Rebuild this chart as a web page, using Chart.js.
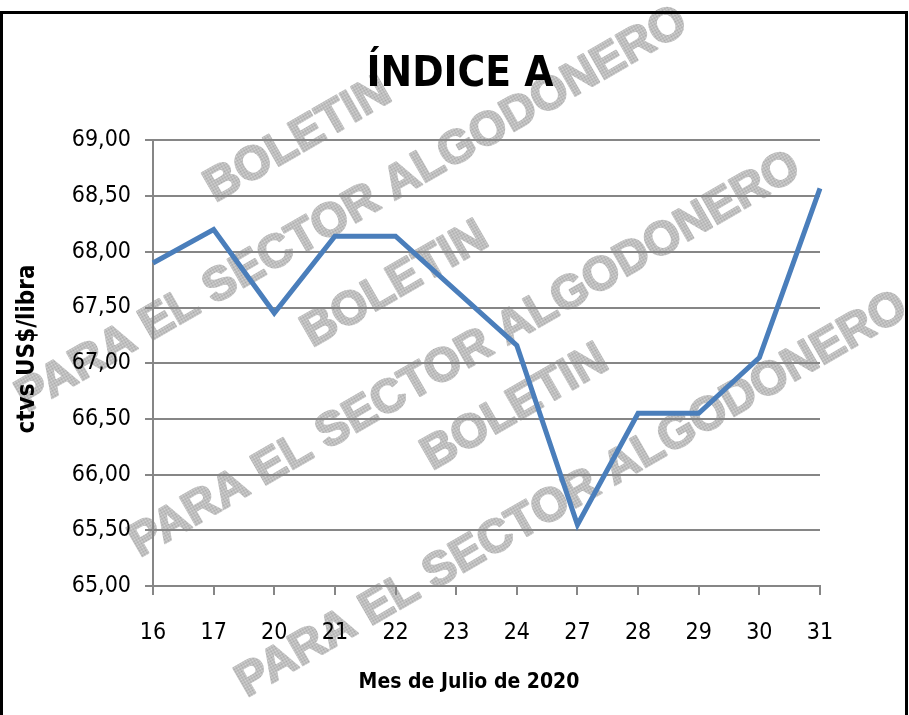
<!DOCTYPE html>
<html>
<head>
  <meta charset="utf-8">
  <title>Índice A</title>
  <script src="https://cdn.jsdelivr.net/npm/chart.js"></script>
  <style>
    body { margin: 0; background: #fff; }
  </style>
</head>
<body>
  <canvas id="indiceChart" width="909" height="715"></canvas>

  <script>
    // dias de julio 2020 y valor del indice (ctvs US$/libra)
    const dias = ['16', '17', '20', '21', '22', '23', '24', '27', '28', '29', '30', '31'];
    const indiceA = [67.90, 68.20, 67.45, 68.14, 68.14, 67.65, 67.16, 65.55, 66.55, 66.55, 67.05, 68.57];
    const yMin = 65, yMax = 69, yStep = 0.5;

    const xTitle = 'Mes de Julio de 2020';
    const yTitle = 'ctvs US$/libra';
    const watermarkLines = ['BOLETIN', 'PARA EL SECTOR ALGODONERO'];

    const FONT = '"DejaVu Sans Condensed", "Liberation Sans", sans-serif';

    // dotted grey fill like the scanned watermark
    const dots = document.createElement('canvas');
    dots.width = 2; dots.height = 2;
    const dctx = dots.getContext('2d');
    dctx.fillStyle = '#d8d8d8'; dctx.fillRect(0, 0, 2, 2);
    dctx.fillStyle = '#a6a6a6'; dctx.fillRect(0, 0, 1, 1); dctx.fillRect(1, 1, 1, 1);

    const decor = {
      id: 'decor',
      beforeDraw(chart) {
        const c = chart.ctx;
        c.save();
        c.fillStyle = '#fff';
        c.fillRect(0, 0, chart.width, chart.height);
        const pat = c.createPattern(dots, 'repeat');
        c.fillStyle = pat;
        c.strokeStyle = pat;
        c.lineWidth = 2;
        c.lineJoin = 'round';
        c.font = 'bold 47px "Liberation Sans"';
        c.textAlign = 'center';
        c.textBaseline = 'middle';
        const blocks = [
          { top: [298, 140], line: [352, 210] },
          { top: [395, 285], line: [465, 355] },
          { top: [515, 408], line: [572, 495] }
        ];
        const ang = -30 * Math.PI / 180;
        blocks.forEach(b => {
          [b.top, b.line].forEach((p, i) => {
            c.save();
            c.translate(p[0], p[1]);
            c.rotate(ang);
            c.strokeText(watermarkLines[i], 0, 0);
            c.fillText(watermarkLines[i], 0, 0);
            c.restore();
          });
        });
        c.restore();
      },
      afterDraw(chart) {
        const c = chart.ctx;
        c.save();
        // axis titles
        c.fillStyle = '#000';
        c.textAlign = 'center';
        c.textBaseline = 'middle';
        c.font = 'bold 21px ' + FONT;
        c.fillText(xTitle, 469, 683);
        c.translate(28, 349);
        c.rotate(-Math.PI / 2);
        c.font = 'bold 24px ' + FONT;
        c.fillText(yTitle, 0, 0);
        c.restore();

        // frame
        c.save();
        c.strokeStyle = '#000';
        c.lineWidth = 3;
        c.beginPath();
        c.moveTo(1.5, 716);
        c.lineTo(1.5, 12.5);
        c.lineTo(906.5, 12.5);
        c.lineTo(906.5, 716);
        c.stroke();
        c.restore();
      }
    };

    const ctx = document.getElementById('indiceChart').getContext('2d');
    const chart = new Chart(ctx, {
      type: 'line',
      data: {
        labels: dias,
        datasets: [{
          label: 'Índice A',
          data: indiceA,
          borderColor: '#4A7EBB',
          borderWidth: 5,
          borderJoinStyle: 'miter',
          pointRadius: 0,
          tension: 0,
          fill: false
        }]
      },
      options: {
        responsive: false,
        animation: false,
        layout: { padding: { top: 0, left: 11, right: 0, bottom: 0 } },
        plugins: {
          legend: { display: false },
          tooltip: { enabled: false },
          title: {
            display: true,
            text: 'ÍNDICE A',
            color: '#000',
            font: { family: FONT, size: 42, weight: 'bold' },
            padding: { top: 50, bottom: 40 }
          }
        },
        scales: {
          x: {
            offset: false,
            grid: { display: true, drawOnChartArea: false, drawTicks: true, tickLength: 9, color: '#868686', lineWidth: 2 },
            border: { color: '#868686', width: 2 },
            ticks: {
              color: '#000',
              padding: 24,
              maxRotation: 0,
              autoSkip: false,
              font: { family: FONT, size: 23 }
            },
            afterFit(scale) { scale.height = 129; }
          },
          y: {
            min: yMin,
            max: yMax,
            grid: { color: '#868686', lineWidth: 2, tickLength: 8 },
            border: { color: '#868686', width: 2 },
            ticks: {
              stepSize: yStep,
              color: '#000',
              padding: 14,
              font: { family: FONT, size: 23 },
              callback: v => v.toFixed(2).replace('.', ',')
            },
            afterFit(scale) { scale.width = 142; }
          },
          // empty right-hand strip so the plot ends where the original does
          yRight: {
            position: 'right',
            grid: { display: false, drawTicks: false },
            border: { display: false },
            ticks: { display: false },
            afterFit(scale) { scale.width = 89; }
          }
        }
      },
      plugins: [decor]
    });
  </script>
</body>
</html>
